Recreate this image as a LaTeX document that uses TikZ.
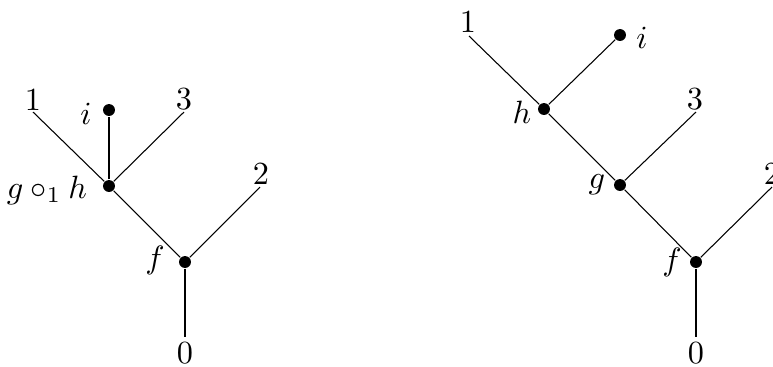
\documentclass[tikz,border=0pt]{standalone}
\begin{document}
\begin{tikzpicture}[x=0.31pt,y=-0.31pt,
  dot/.style={circle,fill=black,inner sep=0pt,minimum size=3.7pt},
  edge/.style={line width=0.33pt},
  lbl/.style={inner sep=0pt}]
\useasboundingbox (0,0) rectangle (773,366);
% left tree
\node[dot] (Lf) at (185,262) {};
\node[dot] (Lgh) at (109,186) {};
\node[dot] (Li) at (109,110) {};
\coordinate (L0) at (185,337);
\coordinate (L1) at (33,112);
\coordinate (L3) at (184,112);
\coordinate (L2) at (260,187);
\draw[edge] (Lf) -- (L0);
\draw[edge] (Lf) -- (Lgh);
\draw[edge] (Lf) -- (L2);
\draw[edge] (Lgh) -- (L1);
\draw[edge] (Lgh) -- (Li);
\draw[edge] (Lgh) -- (L3);
\node[lbl] (tL0) at (185,353) {$0$};
\node[lbl] (tL1) at (33,100) {$1$};
\node[lbl] (tL3) at (184,99) {$3$};
\node[lbl] (tL2) at (261,174) {$2$};
\node[lbl] (tLi) at (86,114) {$i$};
\node[lbl] (tLf) at (155,260) {$f$};
\node[lbl] (tLgh) at (47,190) {$g\circ_1 h$};
% right tree
\node[dot] (Rf) at (696,262) {};
\node[dot] (Rg) at (620,185) {};
\node[dot] (Rh) at (544,109) {};
\node[dot] (Ri) at (620,35) {};
\coordinate (R0) at (696,337);
\coordinate (R1) at (469,36);
\coordinate (R3) at (696,112);
\coordinate (R2) at (772,187);
\draw[edge] (Rf) -- (R0);
\draw[edge] (Rf) -- (Rg);
\draw[edge] (Rf) -- (R2);
\draw[edge] (Rg) -- (Rh);
\draw[edge] (Rg) -- (R3);
\draw[edge] (Rh) -- (R1);
\draw[edge] (Rh) -- (Ri);
\node[lbl] (tR0) at (696,353) {$0$};
\node[lbl] (tR1) at (468,22) {$1$};
\node[lbl] (tR3) at (695,99) {$3$};
\node[lbl] (tR2) at (772,174) {$2$};
\node[lbl] (tRi) at (642,38) {$i$};
\node[lbl] (tRf) at (672,262) {$f$};
\node[lbl] (tRg) at (597,185) {$g$};
\node[lbl] (tRh) at (522,112) {$h$};
\end{tikzpicture}
\end{document}
